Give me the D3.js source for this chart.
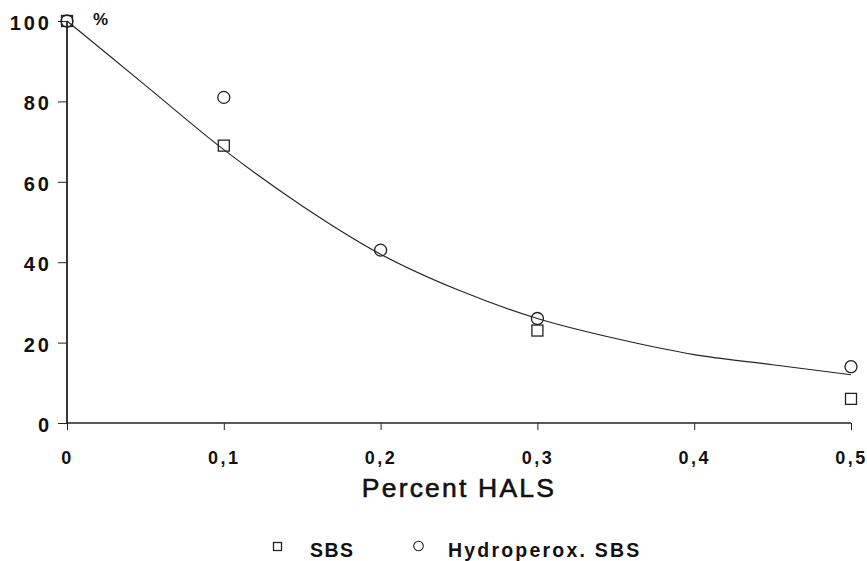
<!DOCTYPE html>
<html><head><meta charset="utf-8">
<script src="https://cdn.jsdelivr.net/npm/d3@7"></script>
<style>body{margin:0;background:#fff}svg{display:block}</style>
</head><body>
<svg id="c" width="867" height="561"></svg>
<script>
const xTicks = [0, 0.1, 0.2, 0.3, 0.4, 0.5];
const xTickLabels = ["0", "0,1", "0,2", "0,3", "0,4", "0,5"];
const yTicks = [0, 20, 40, 60, 80, 100];
const sbsX = [0, 0.1, 0.3, 0.5];
const sbsY = [100, 69, 23, 6];
const hydX = [0, 0.1, 0.2, 0.3, 0.5];
const hydY = [100, 81, 43, 26, 14];
const fitX = [0, 0.05, 0.1, 0.15, 0.2, 0.25, 0.3, 0.35, 0.4, 0.45, 0.5];
const fitY = [100, 84, 68, 54, 42, 33, 26, 21, 17, 14.5, 12];

const FONT = "'Liberation Sans', Arial, Helvetica, sans-serif";
const svg = d3.select("#c");
const x = d3.scaleLinear().domain([0, 0.5]).range([67, 851]);
const y = d3.scaleLinear().domain([0, 100]).range([423, 21]);

const xAxis = d3.axisBottom(x).tickValues(xTicks).tickSize(7).tickFormat((d,i)=>xTickLabels[i]);
const gx = svg.append("g").attr("transform","translate(0,423)").call(xAxis);
gx.select(".domain").attr("d", `M${x(0)},0H${x(0.5)}`).attr("stroke","#222").attr("stroke-width",1.3);
gx.selectAll(".tick line").attr("stroke","#222");
gx.selectAll(".tick text").attr("y",41).attr("dy",null).attr("fill","#111")
  .style("font-family",FONT).style("font-weight","bold").style("font-size","18px").style("letter-spacing","2.5px");

const yAxis = d3.axisLeft(y).tickValues(yTicks).tickSize(9).tickFormat(d3.format("d"));
const gy = svg.append("g").attr("transform","translate(67,0)").call(yAxis);
gy.select(".domain").attr("d", `M0,${y(0)}V${y(100)}`).attr("stroke","#222").attr("stroke-width",1.8);
gy.selectAll(".tick line").attr("stroke","#222");
gy.selectAll(".tick text").attr("x",-15).attr("dy","0.42em").attr("fill","#111")
  .style("font-family",FONT).style("font-weight","bold").style("font-size","20px").style("letter-spacing","3px");

svg.append("text").attr("x",93).attr("y",25).style("font-family",FONT).style("font-weight","bold").style("font-size","17px").attr("fill","#111").text("%");

svg.append("text").attr("x",(x(0)+x(0.5))/2).attr("y",497).attr("text-anchor","middle")
  .style("font-family",FONT).style("font-size","26.5px").style("letter-spacing","2.2px")
  .attr("fill","#111").attr("stroke","#111").attr("stroke-width",0.6).text("Percent HALS");

const fit = fitX.map((v,i)=>[v, fitY[i]]);
svg.append("path").datum(fit).attr("fill","none").attr("stroke","#222").attr("stroke-width",1.1)
  .attr("d", d3.line().x(d=>x(d[0])).y(d=>y(d[1])).curve(d3.curveMonotoneX));

const sq = 11;
svg.append("g").selectAll("rect").data(sbsX.map((v,i)=>[v,sbsY[i]])).join("rect")
  .attr("x",d=>x(d[0])-sq/2).attr("y",d=>y(d[1])-sq/2).attr("width",sq).attr("height",sq)
  .attr("fill","none").attr("stroke","#222").attr("stroke-width",1.3);
svg.append("g").selectAll("circle").data(hydX.map((v,i)=>[v,hydY[i]])).join("circle")
  .attr("cx",d=>x(d[0])).attr("cy",d=>y(d[1])).attr("r",6)
  .attr("fill","none").attr("stroke","#222").attr("stroke-width",1.3);

// legend
const lg = svg.append("g");
lg.append("rect").attr("x",273.5).attr("y",542.5).attr("width",8).attr("height",8).attr("fill","none").attr("stroke","#222").attr("stroke-width",1.3);
lg.append("text").attr("x",310).attr("y",557).style("font-family",FONT).style("font-weight","bold").style("font-size","19.5px").style("letter-spacing","1.5px").attr("fill","#111").text("SBS");
lg.append("circle").attr("cx",418.5).attr("cy",546).attr("r",4.8).attr("fill","none").attr("stroke","#222").attr("stroke-width",1.1);
lg.append("text").attr("x",448).attr("y",557).style("font-family",FONT).style("font-weight","bold").style("font-size","19.5px").style("letter-spacing","2.2px").attr("fill","#111").text("Hydroperox. SBS");
</script>
</body></html>
